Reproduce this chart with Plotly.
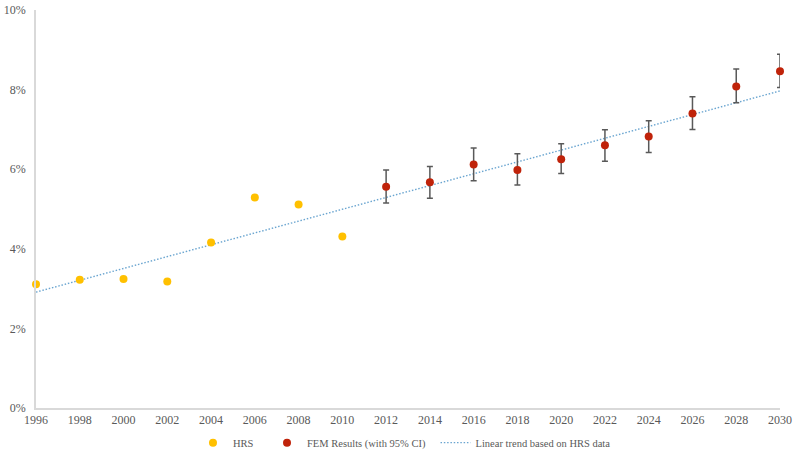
import numpy as np
import plotly.graph_objects as go

hrs_years = [1996, 1998, 2000, 2002, 2004, 2006, 2008, 2010]
hrs_vals = [3.11, 3.22, 3.24, 3.18, 4.16, 5.29, 5.11, 4.31]

fem_years = [2012, 2014, 2016, 2018, 2020, 2022, 2024, 2026, 2028, 2030]
fem_vals = [5.56, 5.67, 6.12, 5.98, 6.25, 6.60, 6.82, 7.40, 8.08, 8.46]
fem_upper = [5.98, 6.07, 6.53, 6.39, 6.64, 6.99, 7.22, 7.82, 8.52, 8.89]
fem_lower = [5.15, 5.27, 5.71, 5.60, 5.89, 6.20, 6.42, 7.00, 7.67, 8.05]

trend_years = [1996, 2030]

# linear trend fitted to HRS data
slope, intercept = np.polyfit(hrs_years, hrs_vals, 1)
trend_vals = [slope * y + intercept for y in trend_years]

pct = lambda arr: [v / 100 for v in arr]

TREND_LINE = dict(color="#6AA5D0", width=1.4, dash="1.5px,1.8px")
LEG_FONT = dict(size=10.5, color="#595959")
LEG_Y = -0.087

fig = go.Figure()
fig.add_trace(go.Scatter(
    x=trend_years, y=pct(trend_vals), mode="lines",
    name="Linear trend based on HRS data",
    line=TREND_LINE, showlegend=False,
))
fig.add_trace(go.Scatter(
    x=hrs_years, y=pct(hrs_vals), mode="markers", name="HRS",
    marker=dict(color="#FFC000", size=8), cliponaxis=False, legend="legend",
))
fig.add_trace(go.Scatter(
    x=fem_years, y=pct(fem_vals), mode="markers",
    name="FEM Results (with 95% CI)",
    marker=dict(color="#C0230A", size=8), cliponaxis=False, legend="legend2",
    error_y=dict(type="data", symmetric=False,
                 array=[(u - v) / 100 for u, v in zip(fem_upper, fem_vals)],
                 arrayminus=[(v - l) / 100 for v, l in zip(fem_vals, fem_lower)],
                 color="#595959", thickness=1.5, width=3),
))
fig.add_trace(go.Scatter(
    x=[None], y=[None], mode="lines",
    name="Linear trend based on HRS data",
    line=TREND_LINE, legend="legend3",
))

legend_common = dict(orientation="h", xanchor="left", y=LEG_Y, yanchor="middle",
                     font=LEG_FONT, itemwidth=30, bgcolor="rgba(0,0,0,0)")

fig.update_layout(
    width=800, height=457,
    margin=dict(l=36, r=20, t=10, b=49, autoexpand=False),
    paper_bgcolor="white", plot_bgcolor="white",
    font=dict(family="Liberation Serif, Times New Roman, serif", size=12, color="#595959"),
    showlegend=True,
    legend=dict(x=0.2110, **legend_common),
    legend2=dict(x=0.3105, **legend_common),
    legend3=dict(x=0.5370, **legend_common),
)
fig.update_xaxes(
    range=[1996, 2030], tickmode="array", tickvals=list(range(1996, 2031, 2)),
    showgrid=False, zeroline=False, showline=True, linecolor="#D9D9D9", linewidth=1.5,
    ticks="", tickfont=dict(size=12, color="#595959"), automargin=False,
)
fig.update_yaxes(
    range=[0, 0.10], tickvals=[0, 0.02, 0.04, 0.06, 0.08, 0.10], tickformat=".0%",
    showgrid=False, zeroline=False, showline=True, linecolor="#D9D9D9", linewidth=1.5,
    ticks="", tickfont=dict(size=12, color="#595959"), automargin=False,
    ticklabelstandoff=6,
)

fig.write_html(
    "out.html",
    config={"displayModeBar": False},
    post_script="document.body.style.margin='0';document.body.style.overflow='hidden';",
)
